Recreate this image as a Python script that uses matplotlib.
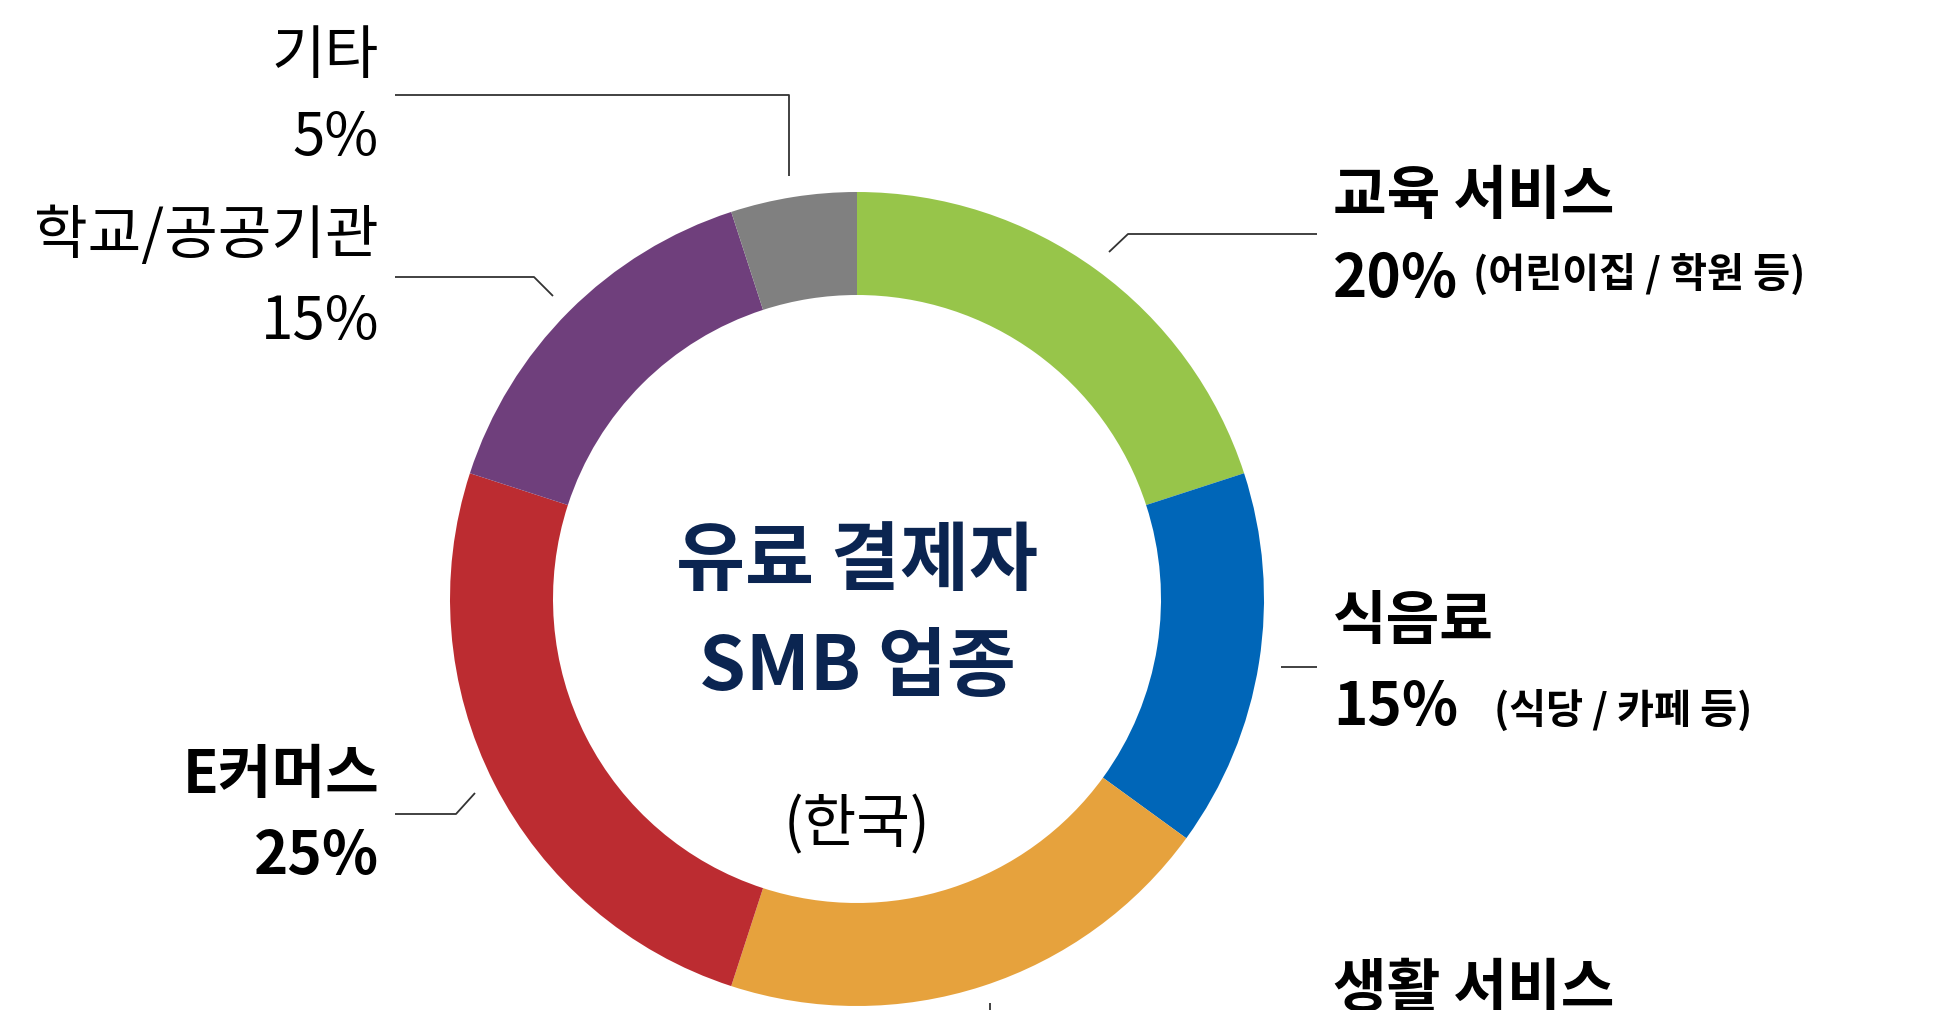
import matplotlib.pyplot as plt

plt.rcParams['font.family'] = ['Noto Sans CJK KR', 'DejaVu Sans']

# data
categories = ['교육 서비스', '식음료', '생활 서비스', 'E커머스', '학교/공공기관', '기타']
shares = [20, 15, 20, 25, 15, 5]
notes = ['(어린이집 / 학원 등)', '(식당 / 카페 등)', '', '', '', '']
colors = ['#97C54A', '#0066B8', '#E6A23D', '#BC2C31', '#6F3F7C', '#808080']

W, H = 1948, 1010
fig = plt.figure(figsize=(W / 100, H / 100), dpi=100)
ax = fig.add_axes([0, 0, 1, 1])


def Y(y):
    # pixel from top -> data y
    return H - y


cx, cy, R = 857, 599, 407
ax.pie(shares, colors=colors, startangle=90, counterclock=False,
       center=(cx, Y(cy)), radius=R, frame=True,
       wedgeprops=dict(width=103, edgecolor='none', linewidth=0))
ax.set_xlim(0, W)
ax.set_ylim(0, H)
ax.set_aspect('equal')
ax.axis('off')

lc = '#333333'
lw = 1.3

# leader lines (pixel coords from top)
leaders = [
    [(1109, 252), (1128, 234), (1317, 234)],
    [(1281, 667), (1317, 667)],
    [(990, 1003), (990, 1015)],
    [(475, 793), (456, 814), (395, 814)],
    [(553, 296), (534, 277), (395, 277)],
    [(789, 176), (789, 95), (395, 95)],
]
for pts in leaders:
    ax.plot([p[0] for p in pts], [Y(p[1]) for p in pts], color=lc, lw=lw,
            solid_capstyle='butt', clip_on=False)

fs = 42
sub = 29
# right side labels
ax.text(1333, Y(197), categories[0], fontsize=fs, fontweight='bold',
        ha='left', va='center')
ax.text(1333, Y(280), f'{shares[0]}%', fontsize=fs, fontweight='bold',
        ha='left', va='center')
ax.text(1473, Y(275), notes[0], fontsize=sub, fontweight='bold',
        ha='left', va='center')

ax.text(1333, Y(622), categories[1], fontsize=fs, fontweight='bold',
        ha='left', va='center')
ax.text(1333, Y(708), f'{shares[1]}%', fontsize=fs, fontweight='bold',
        ha='left', va='center')
ax.text(1494, Y(711), notes[1], fontsize=sub, fontweight='bold',
        ha='left', va='center')

# bottom label runs off the lower edge, as in the source image
ax.text(1333, Y(990), categories[2], fontsize=fs, fontweight='bold',
        ha='left', va='center')

# left side labels
ax.text(379, Y(776), categories[3], fontsize=fs, fontweight='bold',
        ha='right', va='center')
ax.text(379, Y(857), f'{shares[3]}%', fontsize=fs, fontweight='bold',
        ha='right', va='center')

ax.text(379, Y(236), categories[4], fontsize=fs, ha='right', va='center')
ax.text(379, Y(323), f'{shares[4]}%', fontsize=fs, ha='right', va='center')

ax.text(379, Y(56), categories[5], fontsize=fs, ha='right', va='center')
ax.text(379, Y(139), f'{shares[5]}%', fontsize=fs, ha='right', va='center')

# centre title
navy = '#0B2551'
ax.text(cx, Y(562), '유료 결제자', fontsize=54, fontweight='bold', color=navy,
        ha='center', va='center')
ax.text(cx, Y(668), 'SMB 업종', fontsize=54, fontweight='bold', color=navy,
        ha='center', va='center')
ax.text(cx, Y(826), '(한국)', fontsize=42, ha='center', va='center')

fig.savefig('out.png', dpi=100)
